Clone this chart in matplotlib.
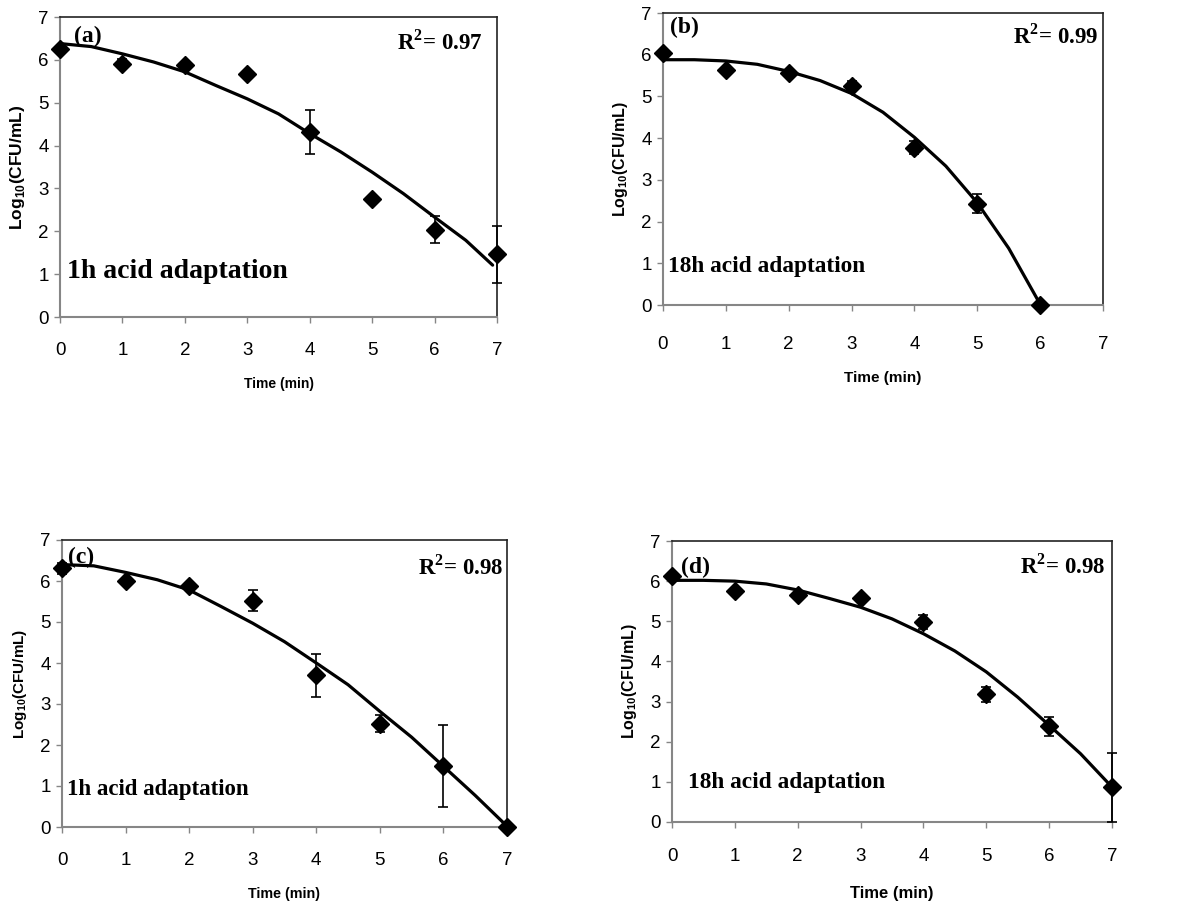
import matplotlib
matplotlib.use("Agg")
import matplotlib.pyplot as plt

# ---- data ----
time_pts = [0, 1, 2, 3, 4, 5, 6, 7]

# panel (a) 1h acid adaptation
a_obs = [6.26, 5.91, 5.89, 5.68, 4.32, 2.76, 2.04, 1.46]
a_err = [0.0, 0.10, 0.0, 0.0, 0.51, 0.0, 0.32, 0.66]
a_fit_t = [0, 0.5, 1, 1.5, 2, 2.5, 3, 3.5, 4, 4.5, 5, 5.5, 6, 6.5, 6.93]
a_fit_y = [6.38, 6.31, 6.14, 5.95, 5.72, 5.40, 5.09, 4.74, 4.28, 3.85, 3.38, 2.88, 2.33, 1.79, 1.21]

# panel (b) 18h acid adaptation
b_t = [0, 1, 2, 3, 4, 5, 6]
b_obs = [6.03, 5.63, 5.56, 5.24, 3.77, 2.43, 0.0]
b_err = [0.04, 0.06, 0.05, 0.12, 0.15, 0.22, 0.0]
b_fit_t = [0, 0.5, 1, 1.5, 2, 2.5, 3, 3.5, 4, 4.5, 5, 5.5, 6]
b_fit_y = [5.88, 5.88, 5.85, 5.77, 5.60, 5.38, 5.07, 4.62, 4.02, 3.33, 2.45, 1.36, 0.02]

# panel (c) 1h acid adaptation
c_obs = [6.31, 5.99, 5.88, 5.52, 3.70, 2.52, 1.48, 0.0]
c_err = [0.14, 0.08, 0.07, 0.26, 0.53, 0.21, 1.00, 0.0]
c_fit_t = [0, 0.5, 1, 1.5, 2, 2.5, 3, 3.5, 4, 4.5, 5, 5.5, 6, 6.5, 7]
c_fit_y = [6.40, 6.37, 6.21, 6.03, 5.78, 5.38, 4.97, 4.52, 4.00, 3.47, 2.82, 2.19, 1.48, 0.77, 0.02]

# panel (d) 18h acid adaptation
d_obs = [6.12, 5.76, 5.65, 5.59, 4.98, 3.18, 2.38, 0.86]
d_err = [0.05, 0.05, 0.08, 0.04, 0.18, 0.18, 0.23, 0.85]
d_fit_t = [0, 0.5, 1, 1.5, 2, 2.5, 3, 3.5, 4, 4.5, 5, 5.5, 6, 6.5, 7]
d_fit_y = [6.02, 6.02, 6.00, 5.93, 5.78, 5.57, 5.35, 5.06, 4.69, 4.26, 3.74, 3.11, 2.41, 1.70, 0.87]

panel_tags = ["(a)", "(b)", "(c)", "(d)"]
r2_labels = ["0.97", "0.99", "0.98", "0.98"]
adapt_labels = ["1h acid adaptation", "18h acid adaptation", "1h acid adaptation", "18h acid adaptation"]
x_ticks = [0, 1, 2, 3, 4, 5, 6, 7]
y_ticks = [0, 1, 2, 3, 4, 5, 6, 7]

W, H = 1194, 908
fig = plt.figure(figsize=(W / 100, H / 100), dpi=100)

# axes boxes in pixels: left, top, right, bottom
boxes = [(60, 17, 497, 317), (663, 13, 1103, 305), (62, 540, 507, 827), (672, 541, 1112, 822)]
panels = [
    (time_pts, a_obs, a_err, a_fit_t, a_fit_y),
    (b_t, b_obs, b_err, b_fit_t, b_fit_y),
    (time_pts, c_obs, c_err, c_fit_t, c_fit_y),
    (time_pts, d_obs, d_err, d_fit_t, d_fit_y),
]
tag_pos = [(0.22, 6.42), (0.11, 6.52), (0.09, 6.44), (0.14, 6.20)]
r2_pos = [(0.968, 6.23), (0.989, 6.28), (0.991, 6.15), (0.986, 6.20)]
adapt_pos = [(0.11, 0.91), (0.08, 0.79), (0.08, 0.78), (0.25, 0.85)]
adapt_sizes = [20, 16.8, 16.5, 16.8]
xlabel_sizes = [10, 11, 10.3, 12]
ylabel_sizes = [12.5, 11.5, 11, 11.5]
xpads = [14, 18, 14, 15]
xlabelpads = [13, 13, 13, 15]

serif = "Liberation Serif"
sans = "Liberation Sans"
gray = "#868686"

for i, (box, (t, obs, err, ft, fy)) in enumerate(zip(boxes, panels)):
    l, tp, r, b = box
    ax = fig.add_axes([l / W, 1 - b / H, (r - l) / W, (b - tp) / H])
    ax.plot(ft, fy, color="black", lw=2.3, solid_capstyle="round", solid_joinstyle="round",
            zorder=2, clip_on=False)
    ax.errorbar(t, obs, yerr=err, fmt="D", color="black", ms=9, ecolor="black",
                elinewidth=1.2, capsize=3.5, capthick=1.2, zorder=3, clip_on=False)
    ax.set_xlim(0, 7)
    ax.set_ylim(0, 7)
    ax.set_xticks(x_ticks)
    ax.set_yticks(y_ticks)
    ax.tick_params(axis="both", direction="out", length=4, width=1, color=gray,
                   labelsize=13.5)
    ax.tick_params(axis="x", pad=xpads[i])
    ax.tick_params(axis="y", pad=4)
    for lab in ax.get_xticklabels() + ax.get_yticklabels():
        lab.set_family(sans)
    for s in ("left", "bottom"):
        ax.spines[s].set_color(gray)
        ax.spines[s].set_linewidth(1.5)
    for s in ("top", "right"):
        ax.spines[s].set_color("#222222")
        ax.spines[s].set_linewidth(1.2)
    ax.set_xlabel("Time (min)", fontsize=xlabel_sizes[i], fontweight="bold", family=sans,
                  labelpad=xlabelpads[i])
    ax.set_ylabel(r"Log$_{\mathregular{10}}$(CFU/mL)", fontsize=ylabel_sizes[i],
                  fontweight="bold", family=sans, labelpad=8)
    ax.text(tag_pos[i][0], tag_pos[i][1], panel_tags[i], fontsize=17, fontweight="bold",
            family=serif, va="baseline", ha="left")
    ax.text(r2_pos[i][0], r2_pos[i][1], r"R$^{\mathregular{2}}$= " + r2_labels[i],
            transform=ax.get_yaxis_transform(),
            fontsize=16.5, fontweight="bold", family=serif, ha="right", va="baseline")
    ax.text(adapt_pos[i][0], adapt_pos[i][1], adapt_labels[i], fontsize=adapt_sizes[i],
            fontweight="bold", family=serif, ha="left", va="baseline")

fig.savefig("out.png", dpi=100)
